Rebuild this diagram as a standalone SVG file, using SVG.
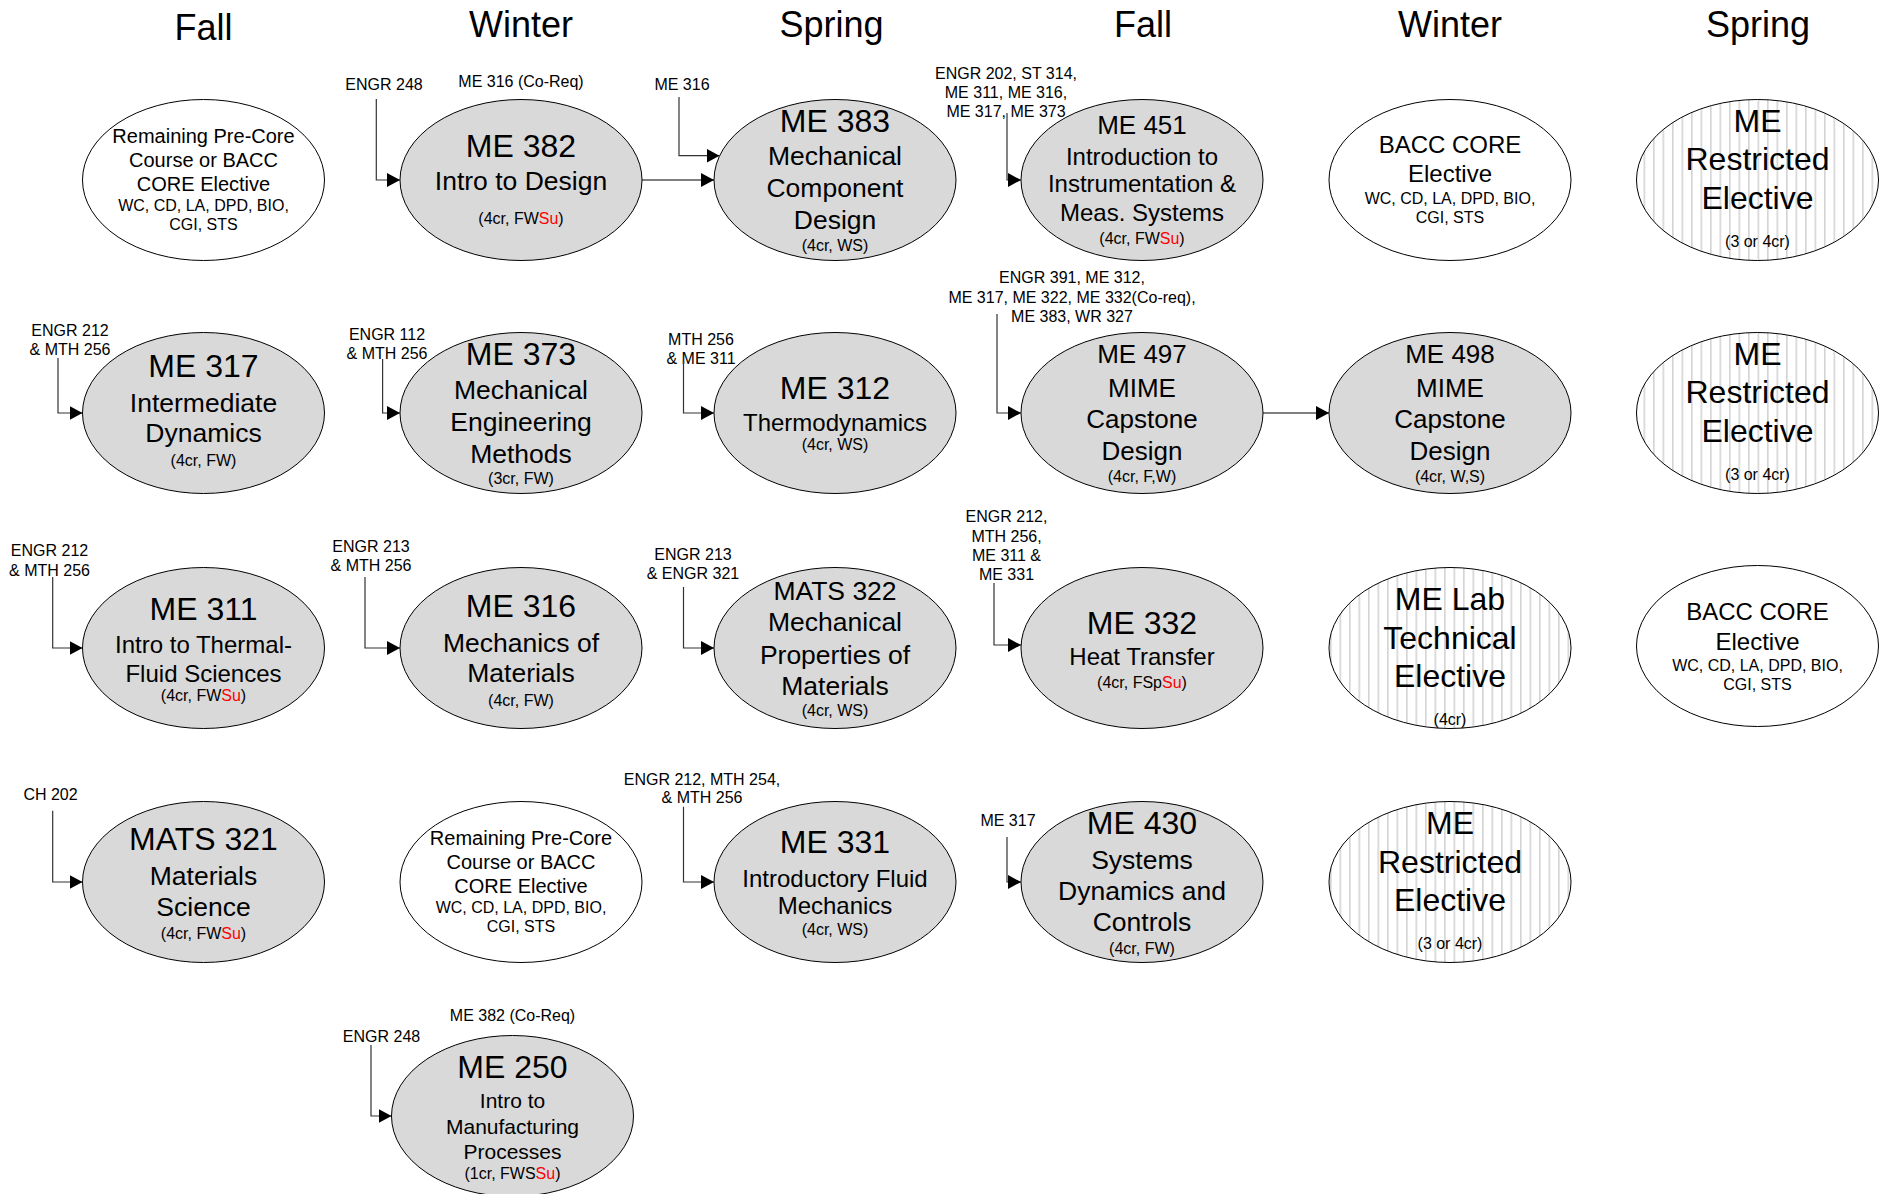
<svg xmlns="http://www.w3.org/2000/svg" width="1881" height="1194" viewBox="0 0 1881 1194">
<style>
text{font-family:"Liberation Sans",Arial,sans-serif;fill:#000;text-anchor:middle}
.hdr{font-size:36px}
.t32{font-size:32px}
.t27{font-size:26.5px}
.t26{font-size:26px}
.t24{font-size:24px}
.t21{font-size:21px}
.t20{font-size:20px}
.t16{font-size:16px}
.su{fill:#ff0000}
.core{fill:#d9d9d9;stroke:#000;stroke-width:1}
.elec{fill:#fff;stroke:#000;stroke-width:1}
.tech{fill:url(#stripes);stroke:#000;stroke-width:1}
.conn{fill:none;stroke:#333;stroke-width:1.2;marker-end:url(#arr)}
.flow{fill:none;stroke:#555;stroke-width:1.5;marker-end:url(#arr)}
</style>
<defs>
<marker id="arr" markerUnits="userSpaceOnUse" markerWidth="14" markerHeight="14" refX="13" refY="7" orient="auto">
<path d="M0,0 L13,7 L0,14 z" fill="#000"/>
</marker>
<pattern id="stripes" patternUnits="userSpaceOnUse" width="9.5" height="10">
<rect width="9.5" height="10" fill="#fff"/>
<rect x="0" width="1.6" height="10" fill="#d4d4d4"/>
</pattern>
</defs>
<rect width="1881" height="1194" fill="#fff"/>

<g id="headers">
<text class="hdr" x="203.5" y="40">Fall</text>
<text class="hdr" x="521" y="37">Winter</text>
<text class="hdr" x="831.5" y="37">Spring</text>
<text class="hdr" x="1143" y="37">Fall</text>
<text class="hdr" x="1450" y="37">Winter</text>
<text class="hdr" x="1758" y="37">Spring</text>
</g>

<g id="prereq-labels" class="t16">
<text class="t16" x="384" y="90">ENGR 248</text>
<text class="t16" x="521" y="86.5">ME 316 (Co-Req)</text>
<text class="t16" x="682" y="90">ME 316</text>
<text class="t16" x="1006" y="79">ENGR 202, ST 314,</text>
<text class="t16" x="1006" y="97.5">ME 311, ME 316,</text>
<text class="t16" x="1006" y="116.5">ME 317, ME 373</text>
<text class="t16" x="70" y="336">ENGR 212</text>
<text class="t16" x="70" y="355">&amp; MTH 256</text>
<text class="t16" x="387" y="339.5">ENGR 112</text>
<text class="t16" x="387" y="358.5">&amp; MTH 256</text>
<text class="t16" x="701" y="344.5">MTH 256</text>
<text class="t16" x="701" y="363.5">&amp; ME 311</text>
<text class="t16" x="1072" y="283">ENGR 391, ME 312,</text>
<text class="t16" x="1072" y="302.5">ME 317, ME 322, ME 332(Co-req),</text>
<text class="t16" x="1072" y="322">ME 383, WR 327</text>
<text class="t16" x="49.5" y="556">ENGR 212</text>
<text class="t16" x="49.5" y="575.5">&amp; MTH 256</text>
<text class="t16" x="371" y="552">ENGR 213</text>
<text class="t16" x="371" y="571">&amp; MTH 256</text>
<text class="t16" x="693" y="560">ENGR 213</text>
<text class="t16" x="693" y="579">&amp; ENGR 321</text>
<text class="t16" x="1006.5" y="522">ENGR 212,</text>
<text class="t16" x="1006.5" y="541.5">MTH 256,</text>
<text class="t16" x="1006.5" y="560.5">ME 311 &amp;</text>
<text class="t16" x="1006.5" y="580">ME 331</text>
<text class="t16" x="50.5" y="800">CH 202</text>
<text class="t16" x="702" y="784.5">ENGR 212, MTH 254,</text>
<text class="t16" x="702" y="803">&amp; MTH 256</text>
<text class="t16" x="1008" y="826">ME 317</text>
<text class="t16" x="512.5" y="1021">ME 382 (Co-Req)</text>
<text class="t16" x="381.5" y="1041.5">ENGR 248</text>
</g>

<g id="connectors">
<path class="conn" d="M376.3,99 V180 H400"/>
<path class="conn" d="M679,97 V155.7 H719.5"/>
<path class="flow" d="M642,180 H714"/>
<path class="conn" d="M1007,113 V180 H1021"/>
<path class="conn" d="M58,358 V413 H82.5"/>
<path class="conn" d="M382.6,359 V413 H400"/>
<path class="conn" d="M683.5,361 V413 H714"/>
<path class="conn" d="M997,314 V413 H1021"/>
<path class="flow" d="M1263,413 H1329"/>
<path class="conn" d="M52.7,577 V648 H82.5"/>
<path class="conn" d="M365,577 V648 H400"/>
<path class="conn" d="M683.5,587 V648 H714"/>
<path class="conn" d="M994,583 V645 H1021"/>
<path class="conn" d="M52.7,810.7 V882 H82.5"/>
<path class="conn" d="M683.5,806.7 V882 H714"/>
<path class="conn" d="M1007,837 V882 H1021"/>
<path class="conn" d="M371,1045 V1116 H391.5"/>
</g>

<g id="remaining-precore-1">
<ellipse class="elec" cx="203.5" cy="180" rx="121" ry="80.5"/>
<text class="t20" x="203.5" y="143">Remaining Pre-Core</text>
<text class="t20" x="203.5" y="167">Course or BACC</text>
<text class="t20" x="203.5" y="191">CORE Elective</text>
<text class="t16" x="203.5" y="211">WC, CD, LA, DPD, BIO,</text>
<text class="t16" x="203.5" y="230">CGI, STS</text>
</g>

<g id="me382">
<ellipse class="core" cx="521" cy="180" rx="121" ry="80.5"/>
<text class="t32" x="521" y="156.5">ME 382</text>
<text class="t27" x="521" y="190">Intro to Design</text>
<text class="t16" x="521" y="224">(4cr, FW<tspan class="su">Su</tspan>)</text>
</g>

<g id="me383">
<ellipse class="core" cx="835" cy="180" rx="121" ry="80.5"/>
<text class="t32" x="835" y="132">ME 383</text>
<text class="t27" x="835" y="165">Mechanical</text>
<text class="t27" x="835" y="197">Component</text>
<text class="t27" x="835" y="228.5">Design</text>
<text class="t16" x="835" y="251">(4cr, WS)</text>
</g>

<g id="me451">
<ellipse class="core" cx="1142" cy="180" rx="121" ry="80.5"/>
<text class="t26" x="1142" y="134">ME 451</text>
<text class="t24" x="1142" y="164.5">Introduction to</text>
<text class="t24" x="1142" y="192">Instrumentation &amp;</text>
<text class="t24" x="1142" y="220.5">Meas. Systems</text>
<text class="t16" x="1142" y="244">(4cr, FW<tspan class="su">Su</tspan>)</text>
</g>

<g id="bacc-core-1">
<ellipse class="elec" cx="1450" cy="180" rx="121" ry="80.5"/>
<text class="t24" x="1450" y="153">BACC CORE</text>
<text class="t24" x="1450" y="181.5">Elective</text>
<text class="t16" x="1450" y="203.5">WC, CD, LA, DPD, BIO,</text>
<text class="t16" x="1450" y="222.5">CGI, STS</text>
</g>

<g id="me-restricted-1">
<ellipse class="tech" cx="1757.5" cy="180" rx="121" ry="80.5"/>
<text class="t32" x="1757.5" y="131.5">ME</text>
<text class="t32" x="1757.5" y="170">Restricted</text>
<text class="t32" x="1757.5" y="208.5">Elective</text>
<text class="t16" x="1757.5" y="247">(3 or 4cr)</text>
</g>

<g id="me317">
<ellipse class="core" cx="203.5" cy="413" rx="121" ry="80.5"/>
<text class="t32" x="203.5" y="377">ME 317</text>
<text class="t27" x="203.5" y="411.5">Intermediate</text>
<text class="t27" x="203.5" y="442">Dynamics</text>
<text class="t16" x="203.5" y="466">(4cr, FW)</text>
</g>

<g id="me373">
<ellipse class="core" cx="521" cy="413" rx="121" ry="80.5"/>
<text class="t32" x="521" y="365">ME 373</text>
<text class="t27" x="521" y="399">Mechanical</text>
<text class="t27" x="521" y="431">Engineering</text>
<text class="t27" x="521" y="462.5">Methods</text>
<text class="t16" x="521" y="484">(3cr, FW)</text>
</g>

<g id="me312">
<ellipse class="core" cx="835" cy="413" rx="121" ry="80.5"/>
<text class="t32" x="835" y="398.5">ME 312</text>
<text class="t24" x="835" y="431">Thermodynamics</text>
<text class="t16" x="835" y="450">(4cr, WS)</text>
</g>

<g id="me497">
<ellipse class="core" cx="1142" cy="413" rx="121" ry="80.5"/>
<text class="t26" x="1142" y="363">ME 497</text>
<text class="t26" x="1142" y="396.5">MIME</text>
<text class="t26" x="1142" y="428">Capstone</text>
<text class="t26" x="1142" y="459.5">Design</text>
<text class="t16" x="1142" y="482">(4cr, F,W)</text>
</g>

<g id="me498">
<ellipse class="core" cx="1450" cy="413" rx="121" ry="80.5"/>
<text class="t26" x="1450" y="363">ME 498</text>
<text class="t26" x="1450" y="396.5">MIME</text>
<text class="t26" x="1450" y="428">Capstone</text>
<text class="t26" x="1450" y="459.5">Design</text>
<text class="t16" x="1450" y="482">(4cr, W,S)</text>
</g>

<g id="me-restricted-2">
<ellipse class="tech" cx="1757.5" cy="413" rx="121" ry="80.5"/>
<text class="t32" x="1757.5" y="364.5">ME</text>
<text class="t32" x="1757.5" y="403">Restricted</text>
<text class="t32" x="1757.5" y="441.5">Elective</text>
<text class="t16" x="1757.5" y="480">(3 or 4cr)</text>
</g>

<g id="me311">
<ellipse class="core" cx="203.5" cy="648" rx="121" ry="80.5"/>
<text class="t32" x="203.5" y="619.5">ME 311</text>
<text class="t24" x="203.5" y="653">Intro to Thermal-</text>
<text class="t24" x="203.5" y="681.5">Fluid Sciences</text>
<text class="t16" x="203.5" y="701">(4cr, FW<tspan class="su">Su</tspan>)</text>
</g>

<g id="me316">
<ellipse class="core" cx="521" cy="648" rx="121" ry="80.5"/>
<text class="t32" x="521" y="617">ME 316</text>
<text class="t27" x="521" y="651.5">Mechanics of</text>
<text class="t27" x="521" y="682">Materials</text>
<text class="t16" x="521" y="705.5">(4cr, FW)</text>
</g>

<g id="mats322">
<ellipse class="core" cx="835" cy="648" rx="121" ry="80.5"/>
<text class="t27" x="835" y="599.5">MATS 322</text>
<text class="t27" x="835" y="631">Mechanical</text>
<text class="t27" x="835" y="663.5">Properties of</text>
<text class="t27" x="835" y="694.5">Materials</text>
<text class="t16" x="835" y="716">(4cr, WS)</text>
</g>

<g id="me332">
<ellipse class="core" cx="1142" cy="648" rx="121" ry="80.5"/>
<text class="t32" x="1142" y="633.5">ME 332</text>
<text class="t24" x="1142" y="665">Heat Transfer</text>
<text class="t16" x="1142" y="687.5">(4cr, FSp<tspan class="su">Su</tspan>)</text>
</g>

<g id="me-lab-technical-elective">
<ellipse class="tech" cx="1450" cy="648" rx="121" ry="80.5"/>
<text class="t32" x="1450" y="609.5">ME Lab</text>
<text class="t32" x="1450" y="648.5">Technical</text>
<text class="t32" x="1450" y="686.5">Elective</text>
<text class="t16" x="1450" y="724.5">(4cr)</text>
</g>

<g id="bacc-core-3">
<ellipse class="elec" cx="1757.5" cy="646" rx="121" ry="80.5"/>
<text class="t24" x="1757.5" y="620">BACC CORE</text>
<text class="t24" x="1757.5" y="649.5">Elective</text>
<text class="t16" x="1757.5" y="670.5">WC, CD, LA, DPD, BIO,</text>
<text class="t16" x="1757.5" y="689.5">CGI, STS</text>
</g>

<g id="mats321">
<ellipse class="core" cx="203.5" cy="882" rx="121" ry="80.5"/>
<text class="t32" x="203.5" y="850">MATS 321</text>
<text class="t27" x="203.5" y="884.5">Materials</text>
<text class="t27" x="203.5" y="915.5">Science</text>
<text class="t16" x="203.5" y="938.5">(4cr, FW<tspan class="su">Su</tspan>)</text>
</g>

<g id="remaining-precore-2">
<ellipse class="elec" cx="521" cy="882" rx="121" ry="80.5"/>
<text class="t20" x="521" y="845">Remaining Pre-Core</text>
<text class="t20" x="521" y="869">Course or BACC</text>
<text class="t20" x="521" y="893">CORE Elective</text>
<text class="t16" x="521" y="913">WC, CD, LA, DPD, BIO,</text>
<text class="t16" x="521" y="932">CGI, STS</text>
</g>

<g id="me331">
<ellipse class="core" cx="835" cy="882" rx="121" ry="80.5"/>
<text class="t32" x="835" y="853">ME 331</text>
<text class="t24" x="835" y="886.5">Introductory Fluid</text>
<text class="t24" x="835" y="914">Mechanics</text>
<text class="t16" x="835" y="935">(4cr, WS)</text>
</g>

<g id="me430">
<ellipse class="core" cx="1142" cy="882" rx="121" ry="80.5"/>
<text class="t32" x="1142" y="834">ME 430</text>
<text class="t27" x="1142" y="868.5">Systems</text>
<text class="t27" x="1142" y="899.5">Dynamics and</text>
<text class="t27" x="1142" y="931">Controls</text>
<text class="t16" x="1142" y="953.5">(4cr, FW)</text>
</g>

<g id="me-restricted-4">
<ellipse class="tech" cx="1450" cy="882" rx="121" ry="80.5"/>
<text class="t32" x="1450" y="834">ME</text>
<text class="t32" x="1450" y="873">Restricted</text>
<text class="t32" x="1450" y="911">Elective</text>
<text class="t16" x="1450" y="949">(3 or 4cr)</text>
</g>

<g id="me250">
<ellipse class="core" cx="512.5" cy="1116" rx="121" ry="80.5"/>
<text class="t32" x="512.5" y="1078">ME 250</text>
<text class="t21" x="512.5" y="1107.5">Intro to</text>
<text class="t21" x="512.5" y="1133.5">Manufacturing</text>
<text class="t21" x="512.5" y="1158.5">Processes</text>
<text class="t16" x="512.5" y="1179">(1cr, FWS<tspan class="su">Su</tspan>)</text>
</g>
</svg>
